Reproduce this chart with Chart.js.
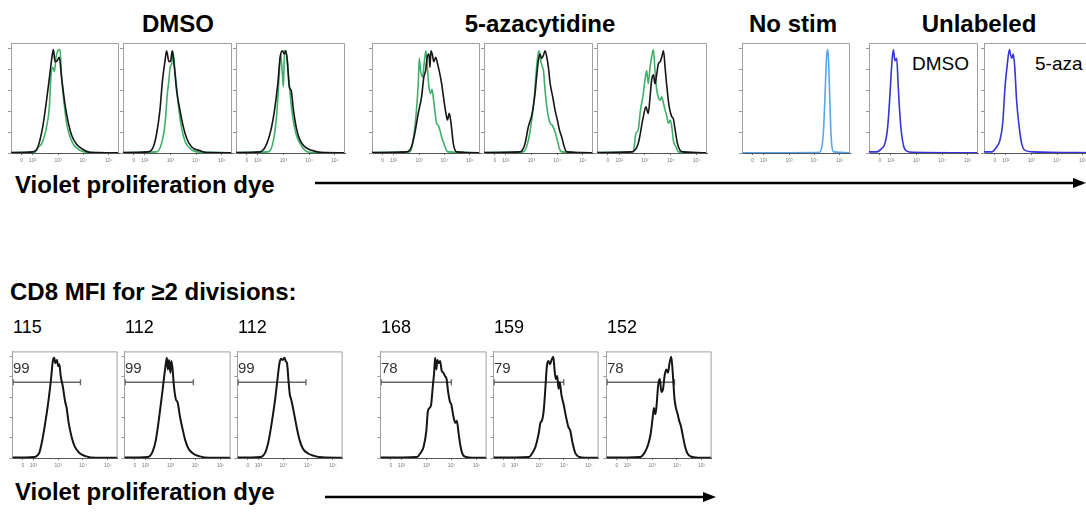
<!DOCTYPE html>
<html>
<head>
<meta charset="utf-8">
<script src="https://cdn.jsdelivr.net/npm/chart.js@4.4.1/dist/chart.umd.min.js"></script>
<style>
  body { margin: 0; width: 1086px; height: 512px; background: #fff; position: relative; overflow: hidden;
         font-family: "Liberation Sans", Arial, sans-serif; }
  .txt { position: absolute; white-space: nowrap; line-height: 1; color: #000; }
  .big { font-weight: bold; font-size: 24px; }
  .ctr { transform: translateX(-50%); }
  canvas { position: absolute; }
  svg { position: absolute; left: 0; top: 0; }
</style>
</head>
<body>

<div class="txt big ctr" style="left:178px; top:12px;">DMSO</div>
<div class="txt big ctr" style="left:540px; top:12px;">5-azacytidine</div>
<div class="txt big ctr" style="left:793px; top:12px;">No stim</div>
<div class="txt big ctr" style="left:979px; top:12px;">Unlabeled</div>
<div class="txt" style="left:912px; top:54px; font-size:19px;">DMSO</div>
<div class="txt" style="left:1035px; top:54px; font-size:19px;">5-aza</div>
<div class="txt big" style="left:15px; top:173px;">Violet proliferation dye</div>

<div class="txt big" style="left:10px; top:280px;">CD8 MFI for ≥2 divisions:</div>
<div class="txt big" style="left:15px; top:480px;">Violet proliferation dye</div>

<svg width="1086" height="512">
  <line x1="315" y1="183" x2="1076" y2="183" stroke="#000" stroke-width="2.5"/>
  <polygon points="1086,183 1073,178 1073,188" fill="#000"/>
  <line x1="325" y1="497" x2="706" y2="497" stroke="#000" stroke-width="2.5"/>
  <polygon points="716,497 703,492 703,502" fill="#000"/>
</svg>

<script>
// axis: violet dye in decades (biexponential display), count as % of max
const xMin = 1.15;
const xMax = 5.4;
const xTickVals = [1.57, 2, 3, 4, 5];
const xTickLabels = ["0", "10²", "10³", "10⁴", "10⁵"];
const yTickVals = [0, 19, 38, 57, 76, 95];

// top row: DMSO (black and green overlays)
const dmso1Black = [[1.15,0.4],[2.0,1],[2.2,5],[2.4,24],[2.55,48],[2.68,72],[2.78,90],[2.82,94],[2.88,83],[2.97,84],[3.05,87],[3.14,69],[3.27,45],[3.41,27],[3.54,16],[3.73,8],[4.0,3],[4.26,0.6],[5.4,0.2]];
const dmso1Green = [[1.15,0.3],[2.1,0.8],[2.23,5.5],[2.36,8.5],[2.55,24],[2.66,42],[2.72,69],[2.79,78],[2.86,74],[2.92,87],[3.0,93],[3.08,94],[3.14,69],[3.24,45],[3.34,27],[3.47,15],[3.63,7],[3.87,2.4],[4.13,0.6],[5.4,0.2]];
const dmso2Black = [[1.15,0.4],[2.13,1],[2.33,5.5],[2.46,17.5],[2.59,39],[2.69,66],[2.79,84],[2.85,93],[2.94,83],[3.01,84],[3.07,93],[3.14,81],[3.24,57],[3.37,39],[3.5,24],[3.64,13],[3.83,5.5],[4.16,2],[4.42,0.3],[5.4,0.2]];
const dmso2Green = [[1.15,0.3],[2.46,1],[2.65,8.5],[2.79,27],[2.88,54],[2.94,66],[2.99,78],[3.05,81],[3.1,92],[3.16,78],[3.24,60],[3.33,39],[3.45,21],[3.58,10],[3.77,4],[4.03,1],[5.4,0.2]];
const dmso3Black = [[1.15,0.4],[2.09,1],[2.35,8.5],[2.54,24],[2.67,42],[2.78,63],[2.87,87],[2.96,93],[3.04,90],[3.09,93],[3.15,84],[3.23,60],[3.3,57],[3.39,39],[3.52,21],[3.65,11.5],[3.84,5.5],[4.1,2.4],[4.43,0.6],[5.4,0.2]];
const dmso3Green = [[1.15,0.3],[2.41,1],[2.61,11.5],[2.74,36],[2.83,69],[2.89,90],[2.94,78],[3.0,60],[3.04,93],[3.1,93],[3.18,75],[3.26,54],[3.36,33],[3.49,17.5],[3.65,8.5],[3.84,2.4],[4.04,0.6],[5.4,0.2]];

// top row: 5-azacytidine
const aza1Black = [[1.15,0.4],[2.51,1],[2.7,5.5],[2.83,17.5],[2.97,36],[3.1,51],[3.19,69],[3.26,75],[3.32,87],[3.39,90],[3.43,78],[3.47,93],[3.53,89],[3.58,83],[3.66,87],[3.73,81],[3.82,72],[3.89,63],[3.98,48],[4.06,36],[4.12,30],[4.19,36],[4.26,27],[4.35,8.5],[4.48,1],[5.4,0.2]];
const aza1Green = [[1.15,0.3],[2.64,1],[2.77,11.5],[2.9,39],[2.97,63],[3.01,86],[3.06,75],[3.14,69],[3.2,81],[3.27,93],[3.33,78],[3.39,60],[3.45,54],[3.51,58],[3.56,51],[3.62,39],[3.69,27],[3.76,25],[3.82,21],[3.89,14.5],[3.98,8.5],[4.08,2.4],[4.15,1],[5.4,0.2]];
const aza2Black = [[1.15,0.4],[2.55,1],[2.75,8.5],[2.88,24],[3.01,34],[3.07,42],[3.14,54],[3.2,69],[3.27,84],[3.33,90],[3.4,86],[3.47,89],[3.53,93],[3.6,87],[3.66,78],[3.73,63],[3.83,51],[3.92,39],[4.01,30],[4.09,21],[4.18,14.5],[4.28,5.5],[4.38,1],[5.4,0.2]];
const aza2Green = [[1.15,0.3],[2.68,1],[2.88,11.5],[3.01,30],[3.1,48],[3.18,72],[3.24,87],[3.3,93],[3.36,84],[3.43,78],[3.47,75],[3.53,57],[3.6,42],[3.66,33],[3.73,27],[3.82,25],[3.92,19],[4.01,11.5],[4.09,4],[4.18,1],[5.4,0.2]];
const aza3Black = [[1.15,0.4],[2.48,1],[2.74,8.5],[2.94,33],[3.04,42],[3.13,36],[3.2,51],[3.26,66],[3.33,71],[3.39,63],[3.46,72],[3.52,81],[3.59,83],[3.65,87],[3.72,93],[3.78,78],[3.85,60],[3.94,42],[4.04,33],[4.1,31],[4.17,21],[4.26,8.5],[4.36,2.4],[4.49,1],[5.4,0.2]];
const aza3Green = [[1.15,0.3],[2.55,1],[2.65,17.5],[2.74,21],[2.83,39],[2.94,54],[3.0,66],[3.07,75],[3.13,63],[3.2,78],[3.26,87],[3.33,94],[3.39,75],[3.46,57],[3.52,51],[3.59,48],[3.65,51],[3.72,45],[3.78,39],[3.85,33],[3.91,27],[3.98,30],[4.04,24],[4.1,11.5],[4.2,5.5],[4.3,1],[5.4,0.2]];

// controls
const noStim = [[1.15,0.2],[4.1,0.3],[4.22,1],[4.35,17.5],[4.42,54],[4.47,84],[4.51,94],[4.55,87],[4.59,60],[4.64,24],[4.69,5.5],[4.77,1],[5.4,0.2]];
const unlDmso = [[1.15,1],[1.45,1],[1.64,4],[1.77,8.5],[1.88,24],[1.97,54],[2.03,78],[2.1,94],[2.16,84],[2.23,86],[2.29,60],[2.36,33],[2.42,17.5],[2.51,5.5],[2.61,2],[2.87,0.6],[5.4,0.2]];
const unlAza = [[1.15,1],[1.45,1],[1.64,5.5],[1.77,11.5],[1.88,27],[1.97,60],[2.06,81],[2.14,94],[2.19,89],[2.24,86],[2.29,90],[2.35,78],[2.42,48],[2.52,24],[2.62,8.5],[2.75,2.4],[3.07,1],[5.4,0.2]];

// bottom row: CD8 gated, >=2 divisions
const cd8Dmso1 = [[1.15,0.4],[2.03,1],[2.23,4.5],[2.36,17],[2.49,35],[2.62,56],[2.71,74],[2.79,92],[2.84,94],[2.88,89],[2.95,92],[3.0,86],[3.05,88],[3.1,77],[3.18,68],[3.28,53],[3.34,47],[3.43,32],[3.54,20],[3.67,10.6],[3.87,4.5],[4.13,1.5],[4.52,0.3],[5.4,0.2]];
const cd8Dmso2 = [[1.15,0.4],[2.09,1],[2.28,6],[2.41,17],[2.54,38],[2.67,62],[2.76,80],[2.81,89],[2.85,94],[2.89,83],[2.94,92],[2.99,80],[3.03,91],[3.08,83],[3.13,68],[3.21,55],[3.28,52],[3.38,38],[3.49,26],[3.58,17],[3.71,9],[3.91,4],[4.17,1.5],[4.56,0.3],[5.4,0.2]];
const cd8Dmso3 = [[1.15,0.4],[2.09,1],[2.29,6],[2.42,17],[2.55,35],[2.68,56],[2.77,74],[2.85,89],[2.92,93],[2.98,92],[3.05,94],[3.1,91],[3.16,88],[3.22,71],[3.27,59],[3.31,56],[3.37,50],[3.47,38],[3.57,26],[3.66,17],[3.79,9],[3.99,4.5],[4.25,2],[4.58,0.6],[5.4,0.2]];
const cd8Aza1 = [[1.15,0.4],[2.62,1],[2.75,4.5],[2.88,10.6],[2.99,26],[3.05,44],[3.12,47],[3.18,50],[3.25,68],[3.3,80],[3.34,94],[3.39,83],[3.43,92],[3.48,89],[3.54,91],[3.6,82],[3.67,80],[3.73,77],[3.8,74],[3.86,62],[3.93,53],[3.99,50],[4.08,38],[4.15,33],[4.21,35],[4.28,23],[4.36,10.6],[4.45,3],[4.58,1],[4.84,0.3],[5.4,0.2]];
const cd8Aza2 = [[1.15,0.4],[2.59,1],[2.72,4.5],[2.85,10.6],[2.98,23],[3.05,33],[3.11,35],[3.18,44],[3.24,62],[3.31,86],[3.37,91],[3.44,88],[3.5,92],[3.57,95],[3.62,83],[3.67,74],[3.73,77],[3.78,65],[3.83,71],[3.9,59],[3.99,50],[4.09,38],[4.18,29],[4.25,26],[4.35,14],[4.46,4.5],[4.62,1],[4.88,0.3],[5.4,0.2]];
const cd8Aza3 = [[1.15,0.4],[2.52,1],[2.72,6],[2.85,13.6],[2.94,23],[3.02,38],[3.07,47],[3.13,41],[3.18,50],[3.24,68],[3.31,74],[3.37,62],[3.44,65],[3.5,77],[3.57,83],[3.64,80],[3.7,89],[3.77,95],[3.83,80],[3.9,56],[3.96,47],[4.03,41],[4.09,35],[4.16,30],[4.22,23],[4.33,10.6],[4.42,4.5],[4.55,1.5],[4.88,0.3],[5.4,0.2]];

// gates on bottom row
const gateLevel = 71;
const gateEnds = [3.9, 3.91, 3.92, 3.99, 3.99, 3.9];
const gatePct = ["99", "99", "99", "78", "79", "78"];
const mfiValues = ["115", "112", "112", "168", "159", "152"];

const black = "#151515";
const green = "#3fb06a";
const lightBlue = "#5aa6ea";
const blue = "#3535d8";

// layout (px)
const topY = 43, botY = 348, panelH = 110;
const topPanels = [
  { left: 11, width: 108, curves: [[dmso1Black, black], [dmso1Green, green]] },
  { left: 123, width: 109, curves: [[dmso2Black, black], [dmso2Green, green]] },
  { left: 236, width: 109, curves: [[dmso3Black, black], [dmso3Green, green]] },
  { left: 372, width: 108, curves: [[aza1Black, black], [aza1Green, green]] },
  { left: 484, width: 109, curves: [[aza2Black, black], [aza2Green, green]] },
  { left: 597, width: 110, curves: [[aza3Black, black], [aza3Green, green]] },
  { left: 742, width: 108, curves: [[noStim, lightBlue]] },
  { left: 869, width: 109, curves: [[unlDmso, blue]] },
  { left: 984, width: 109, curves: [[unlAza, blue]] }
];
const botPanels = [
  { left: 11, width: 108, curves: [[cd8Dmso1, black]] },
  { left: 123, width: 109, curves: [[cd8Dmso2, black]] },
  { left: 236, width: 108, curves: [[cd8Dmso3, black]] },
  { left: 379, width: 109, curves: [[cd8Aza1, black]] },
  { left: 492, width: 108, curves: [[cd8Aza2, black]] },
  { left: 605, width: 108, curves: [[cd8Aza3, black]] }
];

// top + right edges of each plot frame
const boxPlugin = {
  id: "box",
  afterDraw(chart) {
    const { ctx, chartArea: a } = chart;
    ctx.save();
    ctx.strokeStyle = "#a0a0a0";
    ctx.lineWidth = 1;
    ctx.beginPath();
    ctx.moveTo(a.left, a.top + 0.5);
    ctx.lineTo(a.right - 0.5, a.top + 0.5);
    ctx.lineTo(a.right - 0.5, a.bottom);
    ctx.stroke();
    ctx.restore();
  }
};

function curve(points, color, width) {
  return {
    data: points.map(p => ({ x: p[0], y: p[1] })),
    borderColor: color,
    borderWidth: width,
    pointRadius: 0,
    cubicInterpolationMode: "monotone",
    fill: false
  };
}

function gate(end) {
  return {
    data: [{ x: 1.18, y: gateLevel }, { x: end, y: gateLevel }],
    borderColor: "#666",
    borderWidth: 1.6,
    pointStyle: "line",
    rotation: 90,
    pointRadius: 3,
    pointBorderColor: "#666",
    pointBorderWidth: 1.4
  };
}

function makePanel(p, top, datasets) {
  const cv = document.createElement("canvas");
  cv.width = p.width + 8;
  cv.height = panelH + 2 + 14;
  cv.style.left = (p.left - 4) + "px";
  cv.style.top = (top - 2) + "px";
  document.body.appendChild(cv);

  new Chart(cv, {
    type: "line",
    data: { datasets: datasets },
    options: {
      responsive: false,
      animation: false,
      devicePixelRatio: 1,
      layout: { padding: { top: 2, right: 4, left: 0, bottom: 0 } },
      plugins: { legend: { display: false }, tooltip: { enabled: false } },
      scales: {
        x: {
          type: "linear", min: xMin, max: xMax,
          afterBuildTicks: s => { s.ticks = xTickVals.map(v => ({ value: v })); },
          afterFit: s => { s.height = 14; },
          ticks: { callback: (v, i) => xTickLabels[i], font: { size: 5 }, color: "#777",
                   padding: 3, maxRotation: 0, autoSkip: false },
          grid: { drawOnChartArea: false, tickLength: 2, color: "#777" },
          border: { color: "#555" }
        },
        y: {
          min: 0, max: 100,
          afterBuildTicks: s => { s.ticks = yTickVals.map(v => ({ value: v })); },
          afterFit: s => { s.width = 4; },
          ticks: { display: false },
          grid: { drawOnChartArea: false, tickLength: 3, color: "#999" },
          border: { color: "#a0a0a0" }
        }
      }
    },
    plugins: [boxPlugin]
  });
}

topPanels.forEach(p => {
  makePanel(p, topY, p.curves.map(c => curve(c[0], c[1], 1.6)));
});

botPanels.forEach((p, i) => {
  makePanel(p, botY, [curve(p.curves[0][0], p.curves[0][1], 2.0), gate(gateEnds[i])]);

  const mfi = document.createElement("div");
  mfi.className = "txt";
  mfi.style.cssText = `left:${p.left + 2}px; top:318px; font-size:18px;`;
  mfi.textContent = mfiValues[i];
  document.body.appendChild(mfi);

  const pct = document.createElement("div");
  pct.className = "txt";
  pct.style.cssText = `left:${p.left + 2}px; top:360px; font-size:15px; color:#333;`;
  pct.textContent = gatePct[i];
  document.body.appendChild(pct);
});
</script>
</body>
</html>
